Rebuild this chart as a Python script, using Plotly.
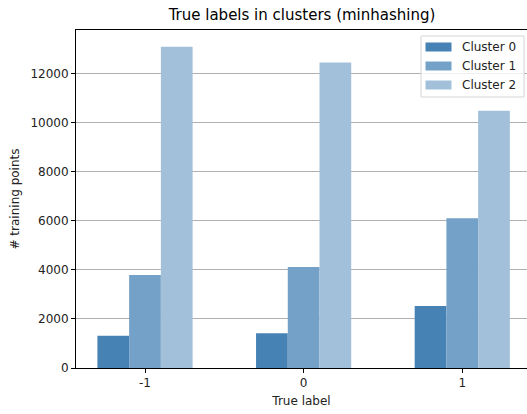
import plotly.graph_objects as go

categories = ["-1", "0", "1"]
x_positions = [-1, 0, 1]
cluster_names = ["Cluster 0", "Cluster 1", "Cluster 2"]
cluster0 = [1310, 1420, 2530]
cluster1 = [3790, 4120, 6100]
cluster2 = [13090, 12450, 10480]
y_ticks = [0, 2000, 4000, 6000, 8000, 10000, 12000]

colors = ["rgb(70,130,180)", "rgb(116,161,199)", "rgb(162,192,218)"]
series = [cluster0, cluster1, cluster2]

W, H = 527, 414
ML, MR, MT, MB = 76, 0, 30, 46
PW, PH = W - ML - MR, H - MT - MB


def px(xp):
    return (xp - ML) / PW


def py(yp):
    return (H - MB - yp) / PH


fig = go.Figure()
for name, vals, col in zip(cluster_names, series, colors):
    fig.add_trace(go.Bar(x=x_positions, y=vals, name=name, hoverinfo="skip",
                         marker=dict(color=col, line=dict(width=0))))

font = "DejaVu Sans"
shapes = [dict(type="rect", xref="paper", yref="paper",
               x0=px(421), x1=px(524), y0=py(97), y1=py(36),
               line=dict(color="#d5d5d5", width=1), fillcolor="rgba(255,255,255,0.8)",
               layer="above")]
annotations = []
row_centers = [47, 66, 85]
for name, col, yc in zip(cluster_names, colors, row_centers):
    shapes.append(dict(type="rect", xref="paper", yref="paper",
                       x0=px(425.5), x1=px(451.5), y0=py(yc + 4.5), y1=py(yc - 4.5),
                       line=dict(width=0), fillcolor=col, layer="above"))
    annotations.append(dict(text=name, xref="paper", yref="paper",
                            x=px(459.5), y=py(yc), xanchor="left", yanchor="middle",
                            showarrow=False, font=dict(size=12, color="#222", family=font)))

fig.update_layout(
    width=W, height=H,
    margin=dict(l=ML, r=MR, t=MT, b=MB),
    paper_bgcolor="white", plot_bgcolor="white",
    font=dict(family=font, size=12, color="#222"),
    barmode="group", bargap=0.4, bargroupgap=0,
    title=dict(text="True labels in clusters (minhashing)", xref="container",
               x=302/527, xanchor="center", y=1-15/414, yanchor="middle",
               font=dict(size=15, color="black", family=font)),
    showlegend=False,
    shapes=shapes, annotations=annotations,
)
fig.update_xaxes(
    range=[-1.435, 1.408], tickvals=x_positions, ticktext=categories,
    showline=True, linecolor="black", linewidth=1, mirror=True,
    ticks="outside", ticklen=4, tickcolor="black", showgrid=False, zeroline=False,
    tickfont=dict(size=12, color="#222"),
    title=dict(text="True label", font=dict(size=12, color="#222"), standoff=7),
)
fig.update_yaxes(
    range=[0, 13773], tickvals=y_ticks, ticktext=[str(v) for v in y_ticks],
    showline=True, linecolor="black", linewidth=1,
    ticks="outside", ticklen=4, tickcolor="black",
    tickfont=dict(size=12, color="#222"),
    showgrid=True, gridcolor="#b0b0b0", gridwidth=1, zeroline=False,
    title=dict(text="# training points", font=dict(size=12, color="#222"), standoff=8),
)
fig.write_html("out.html", config={"displayModeBar": False, "staticPlot": True},
               post_script="document.body.style.margin='0';document.body.style.overflow='hidden';")
